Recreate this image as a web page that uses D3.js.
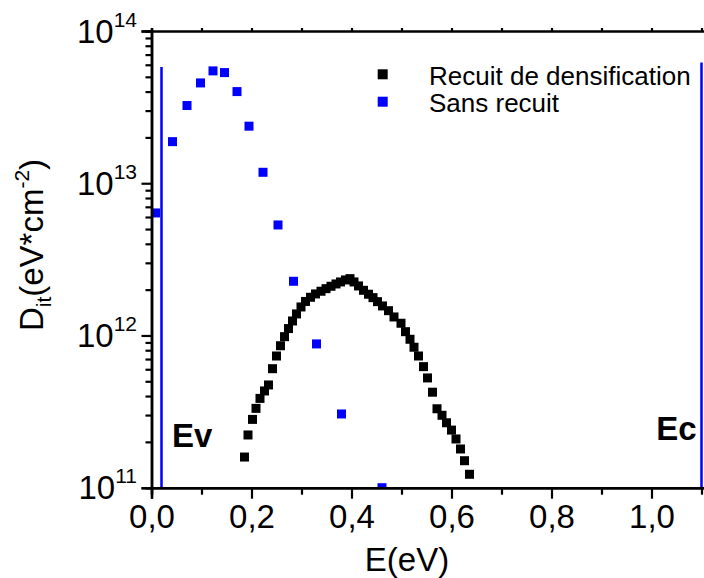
<!DOCTYPE html>
<html><head><meta charset="utf-8">
<script src="https://cdn.jsdelivr.net/npm/d3@7"></script>
<style>
html,body{margin:0;padding:0;background:#fff;}
svg{display:block;font-family:"Liberation Sans",Arial,sans-serif;}
</style></head>
<body><svg id="c" width="704" height="578"></svg>
<script>
// ---- data ----
const recuitE = [0.186,0.193,0.202,0.209,0.217,0.226,0.234,0.242,0.250,0.258,0.266,0.274,0.282,0.290,0.299,0.308,0.318,0.328,0.339,0.349,0.359,0.369,0.378,0.388,0.397,0.405,0.414,0.424,0.434,0.443,0.452,0.462,0.474,0.485,0.499,0.508,0.517,0.525,0.534,0.544,0.552,0.562,0.571,0.581,0.590,0.600,0.609,0.618,0.626,0.636];
const recuitD = [1.59e11,2.22e11,2.81e11,3.32e11,3.86e11,4.32e11,4.73e11,6.05e11,7.33e11,8.56e11,9.82e11,1.11e12,1.245e12,1.385e12,1.539e12,1.673e12,1.782e12,1.874e12,1.952e12,2.03e12,2.105e12,2.18e12,2.247e12,2.316e12,2.362e12,2.247e12,2.115e12,1.98e12,1.866e12,1.772e12,1.668e12,1.563e12,1.455e12,1.323e12,1.203e12,1.059e12,9.44e11,8.37e11,7.33e11,6.24e11,5.26e11,4.24e11,3.30e11,2.99e11,2.67e11,2.39e11,2.09e11,1.796e11,1.504e11,1.225e11];
const sansE = [0.008,0.042,0.071,0.098,0.123,0.146,0.171,0.195,0.223,0.253,0.284,0.330,0.380,0.461];
const sansD = [6.38e12,1.876e13,3.24e13,4.56e13,5.47e13,5.33e13,4.0e13,2.37e13,1.18e13,5.32e12,2.27e12,8.8e11,3.05e11,1.0e11];
const bandEdges = [{name:"Ev", e:0.02, top:5.8e13}, {name:"Ec", e:1.1, top:6.2e13}];
const xMajor = [0,0.2,0.4,0.6,0.8,1.0];
const xMinor = [0.1,0.3,0.5,0.7,0.9,1.1];
const yDecades = [11,12,13,14];
const seriesNames = ["Recuit de densification","Sans recuit"];
const seriesColors = ["#000000","#0000ff"];

// ---- layout ----
const W=704,H=578;
const L=151.5, T=31, B=487.7;
const x = d3.scaleLinear().domain([0,1.2]).range([L, L+600]);
const y = d3.scaleLog().domain([1e11,1e14]).range([B, T]);
const svg = d3.select("#c");

svg.append("defs").append("clipPath").attr("id","clip")
  .append("rect").attr("x",L).attr("y",T).attr("width",W-L).attr("height",B-T);

const plot = svg.append("g").attr("clip-path","url(#clip)");

// band-edge lines
plot.selectAll("line.edge").data(bandEdges).enter().append("line")
  .attr("x1",d=>x(d.e)).attr("x2",d=>x(d.e))
  .attr("y1",d=>y(d.top)).attr("y2",B+5)
  .attr("stroke","#0000ff").attr("stroke-width",2.5);

const ms=9;
const rec = recuitE.map((e,i)=>({e, d:recuitD[i]}));
const san = sansE.map((e,i)=>({e, d:sansD[i]}));
plot.selectAll("rect.r").data(rec).enter().append("rect")
  .attr("x",d=>x(d.e)-ms/2).attr("y",d=>y(d.d)-ms/2)
  .attr("width",ms).attr("height",ms).attr("fill",seriesColors[0]);
plot.selectAll("rect.s").data(san).enter().append("rect")
  .attr("x",d=>x(d.e)-ms/2).attr("y",d=>y(d.d)-ms/2)
  .attr("width",ms).attr("height",ms).attr("fill",seriesColors[1]);

// Ev / Ec labels
svg.append("text").attr("x",x(0.02)+10.5).attr("y",447)
  .attr("font-size",33).attr("font-weight","bold").text("Ev");
svg.append("text").attr("x",x(1.1)-5).attr("y",440).attr("text-anchor","end")
  .attr("font-size",33).attr("font-weight","bold").text("Ec");

// ---- axes ----
const fmt = d=>d.toFixed(1).replace(".",",");
const gx = svg.append("g").attr("transform",`translate(0,${B})`)
  .call(d3.axisBottom(x).tickValues(xMajor).tickSize(11).tickPadding(6).tickFormat(fmt));
const gxm = svg.append("g").attr("transform",`translate(0,${B})`)
  .call(d3.axisBottom(x).tickValues(xMinor).tickSize(7).tickFormat(""));
const gt = svg.append("g").attr("transform",`translate(0,${T})`)
  .call(d3.axisTop(x).tickValues(xMajor.concat(xMinor)).tickSize(3).tickFormat(""));

const minorY=[];
yDecades.slice(0,-1).forEach(p=>{for(let k=2;k<=9;k++) minorY.push(k*Math.pow(10,p));});
const gy = svg.append("g").attr("transform",`translate(${L},0)`)
  .call(d3.axisLeft(y).tickValues(yDecades.map(p=>Math.pow(10,p))).tickSize(10).tickFormat(""));
const gym = svg.append("g").attr("transform",`translate(${L},0)`)
  .call(d3.axisLeft(y).tickValues(minorY).tickSize(6).tickFormat(""));

[gx,gxm,gt,gy,gym].forEach(g=>{
  g.select(".domain").attr("stroke","#000").attr("stroke-width",2.5);
  g.selectAll(".tick line").attr("stroke","#000").attr("stroke-width",2.2);
});
gx.selectAll(".tick text").attr("font-size",33).attr("fill","#000")
  .attr("font-family","Liberation Sans, Arial, sans-serif");

// y decade labels
const yl = svg.append("g");
yDecades.forEach(p=>{
  const t = yl.append("text").attr("x",137).attr("y",y(Math.pow(10,p))+11.5)
    .attr("text-anchor","end").attr("font-size",33);
  t.append("tspan").text("10");
  t.append("tspan").attr("font-size",21).attr("dy",-16).text(String(p));
});

// axis titles
svg.append("text").attr("x",407).attr("y",571).attr("text-anchor","middle")
  .attr("font-size",33).text("E(eV)");
const yt = svg.append("text").attr("transform","translate(43,245) rotate(-90)")
  .attr("text-anchor","middle").attr("font-size",33);
yt.append("tspan").text("D");
yt.append("tspan").attr("font-size",21).attr("dy",8).text("it");
yt.append("tspan").attr("dy",-8).text("(eV*cm");
yt.append("tspan").attr("font-size",21).attr("dy",-14).text("-2");
yt.append("tspan").attr("dy",14).text(")");

// legend
const lg = svg.append("g");
seriesNames.forEach((n,i)=>{
  const cy = 74.3 + i*27.4;
  lg.append("rect").attr("x",382.7-5).attr("y",cy-5).attr("width",10).attr("height",10).attr("fill",seriesColors[i]);
  lg.append("text").attr("x",429).attr("y",cy+10.7).attr("font-size",26).text(n);
});
</script></body></html>
